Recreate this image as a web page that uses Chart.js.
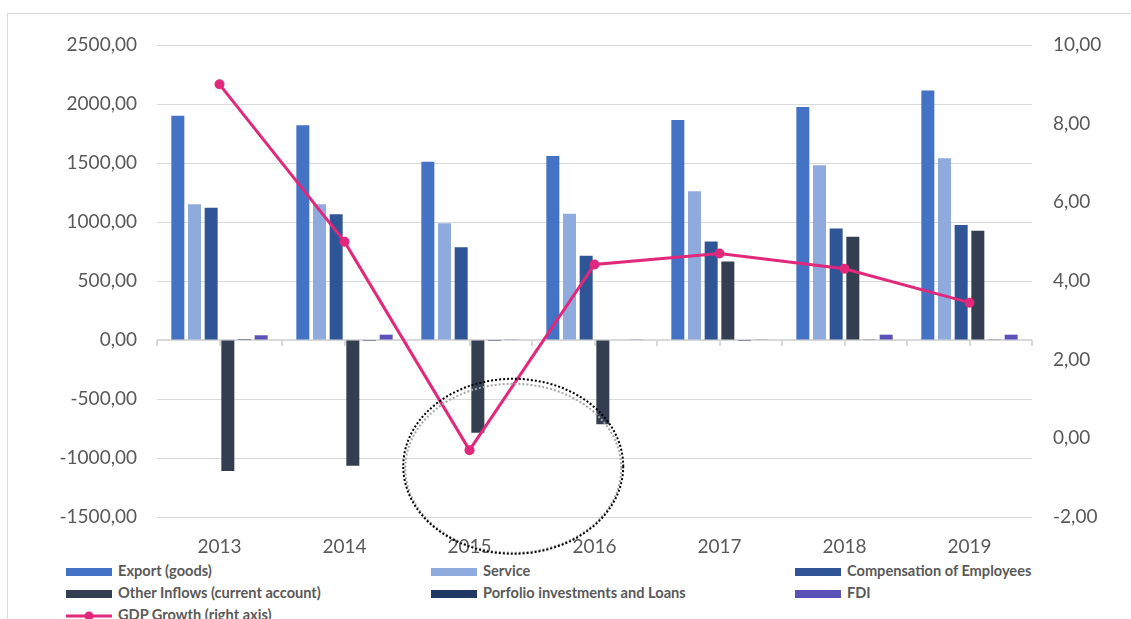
<!DOCTYPE html>
<html>
<head>
<meta charset="utf-8">
<script src="https://cdn.jsdelivr.net/npm/chart.js@4.4.1/dist/chart.umd.min.js"></script>
<style>
  body { margin: 0; background: #fff; overflow: hidden; width: 1131px; height: 619px; position: relative; }
  #frame { position: absolute; left: 7px; top: 13px; width: 1300px; height: 800px; border: 1px solid #d9d9d9; }
  #chart { position: absolute; left: 0; top: 0; }
  .legend-item { position: absolute; height: 20px; line-height: 20px; font: bold 14.6px Lato, "Liberation Sans", sans-serif; color: #595959; white-space: nowrap; }
  .legend-item .sw { position: absolute; left: 0; }
  .legend-item span.txt { position: absolute; left: 52px; top: 0; }
</style>
</head>
<body>
<div id="frame"></div>
<canvas id="chart" width="1131" height="560"></canvas>
<div id="legend"></div>
<script>
var years = ['2013', '2014', '2015', '2016', '2017', '2018', '2019'];

var exportGoods   = [1900, 1820, 1510, 1560, 1865, 1975, 2115];
var service       = [1150, 1150, 990, 1070, 1260, 1480, 1540];
var compensation  = [1120, 1065, 785, 715, 835, 945, 975];
var otherInflows  = [-1110, -1065, -785, -715, 665, 875, 925];
var portfolio     = [8, -8, -8, 0, -8, 6, 6];
var fdi           = [40, 45, 6, 6, 6, 45, 45];
var gdpGrowth     = [9.0, 5.0, -0.3, 4.42, 4.7, 4.31, 3.45];

var leftTicks  = { min: -1500, max: 2500, step: 500 };
var rightTicks = { min: -2, max: 10, step: 2 };

var tickColor = '#595959';
var gridColor = '#d9d9d9';
var fmt = function (v) { return Number(v).toFixed(2).replace('.', ','); };

function bar(label, data, color) {
  return {
    type: 'bar', label: label, data: data, backgroundColor: color,
    yAxisID: 'y', order: 2, categoryPercentage: 0.8, barPercentage: 0.78
  };
}

// zero line across the plot with small tick marks, plus the dotted ring near 2015
var extras = {
  id: 'extras',
  beforeDatasetsDraw: function (chart) {
    var ctx = chart.ctx, x = chart.scales.x, y = chart.scales.y;
    var y0 = y.getPixelForValue(0);
    var cw = (x.right - x.left) / years.length;
    ctx.save();
    ctx.strokeStyle = gridColor;
    ctx.lineWidth = 2;
    ctx.beginPath();
    ctx.moveTo(x.left, y0); ctx.lineTo(x.right, y0);
    for (var i = 0; i <= years.length * 2; i++) {
      var px = Math.round(x.left + i * cw / 2);
      ctx.moveTo(px, y0); ctx.lineTo(px, y0 + 6);
    }
    ctx.stroke();
    ctx.restore();
  },
  afterDraw: function (chart) {
    var ctx = chart.ctx, x = chart.scales.x, y = chart.scales.y;
    var cw = (x.right - x.left) / years.length;
    var cx = x.getPixelForValue(2) + 0.35 * cw;
    var cy = y.getPixelForValue(-1070);
    var rx = 0.88 * cw, ry = 0.70 * cw;
    ctx.save();
    ctx.lineWidth = 2;
    ctx.setLineDash([2, 2]);
    ctx.strokeStyle = '#a6a6a6';
    ctx.beginPath();
    ctx.ellipse(cx, cy + 2, rx - 2, ry - 3, 0, 0, Math.PI * 2);
    ctx.stroke();
    ctx.strokeStyle = '#000';
    ctx.beginPath();
    ctx.ellipse(cx, cy, rx, ry, 0, 0, Math.PI * 2);
    ctx.stroke();
    ctx.restore();
  }
};

var chart = new Chart(document.getElementById('chart'), {
  data: {
    labels: years,
    datasets: [
      bar('Export (goods)', exportGoods, '#4472c4'),
      bar('Service', service, '#8faadc'),
      bar('Compensation of Employees', compensation, '#2f5597'),
      bar('Other Inflows (current account)', otherInflows, '#333f50'),
      bar('Porfolio investments and Loans', portfolio, '#1f3864'),
      bar('FDI', fdi, '#5a52b8'),
      {
        type: 'line', label: 'GDP Growth (right axis)', data: gdpGrowth,
        yAxisID: 'y1', order: 0,
        borderColor: '#e2287a', backgroundColor: '#e2287a',
        borderWidth: 3, pointRadius: 5, pointHoverRadius: 5, pointBorderWidth: 0,
        tension: 0
      }
    ]
  },
  options: {
    responsive: false,
    animation: false,
    layout: { padding: { top: 45, left: 0, right: 0, bottom: 0 } },
    plugins: { legend: { display: false }, tooltip: { enabled: false } },
    scales: {
      x: {
        grid: { display: false },
        border: { display: false },
        ticks: { color: tickColor, font: { family: 'Lato', size: 19 }, padding: 10 },
        afterFit: function (s) { s.height = 43; }
      },
      y: {
        position: 'left',
        min: leftTicks.min, max: leftTicks.max,
        ticks: { stepSize: leftTicks.step, color: tickColor, font: { family: 'Lato', size: 19 }, padding: 20, callback: fmt },
        grid: {
          drawTicks: false, lineWidth: 1,
          color: function (c) { return c.tick && c.tick.value === 0 ? 'rgba(0,0,0,0)' : gridColor; }
        },
        border: { display: false },
        afterFit: function (s) { s.width = 157; }
      },
      y1: {
        position: 'right',
        min: rightTicks.min, max: rightTicks.max,
        ticks: { stepSize: rightTicks.step, color: tickColor, font: { family: 'Lato', size: 19 }, padding: 21, callback: fmt },
        grid: { drawOnChartArea: false, drawTicks: false },
        border: { display: false },
        afterFit: function (s) { s.width = 99; }
      }
    }
  },
  plugins: [extras]
});

// legend in three columns under the plot
var legend = document.getElementById('legend');
var colX = [66, 431, 795];
var rowY = [562, 584, 606];
chart.data.datasets.forEach(function (ds, i) {
  var item = document.createElement('div');
  item.className = 'legend-item';
  item.style.left = colX[i % 3] + 'px';
  item.style.top = rowY[Math.floor(i / 3)] + 'px';
  var sw;
  if (ds.type === 'line') {
    sw = document.createElement('canvas');
    sw.width = 46; sw.height = 20;
    var c = sw.getContext('2d');
    c.strokeStyle = ds.borderColor; c.lineWidth = 3;
    c.beginPath(); c.moveTo(0, 10); c.lineTo(46, 10); c.stroke();
    c.fillStyle = ds.backgroundColor;
    c.beginPath(); c.arc(23, 10, 4.5, 0, Math.PI * 2); c.fill();
    sw.style.top = '0px';
  } else {
    sw = document.createElement('div');
    sw.style.width = '46px'; sw.style.height = '8px'; sw.style.top = '6px';
    sw.style.background = ds.backgroundColor;
  }
  sw.className = 'sw';
  item.appendChild(sw);
  var t = document.createElement('span');
  t.className = 'txt';
  t.textContent = ds.label;
  item.appendChild(t);
  legend.appendChild(item);
});
</script>
</body>
</html>
